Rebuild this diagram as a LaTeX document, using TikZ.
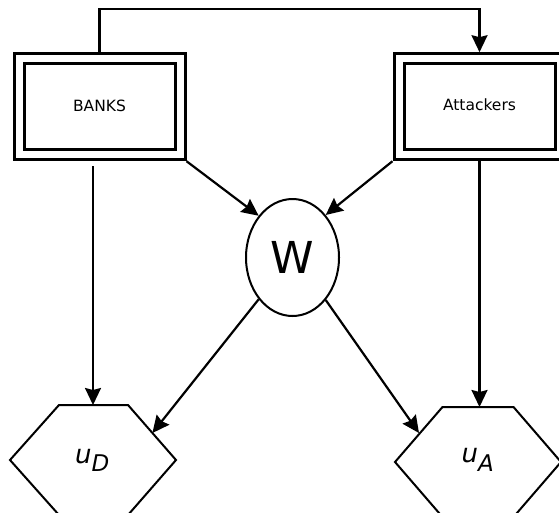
\documentclass[tikz,border=0pt]{standalone}
\usepackage{fontspec}
\setmainfont{DejaVu Sans}
\usetikzlibrary{arrows.meta,shapes.geometric}
\begin{document}
\begin{tikzpicture}[x=1pt,y=-1pt,
  agent/.style={draw, line width=3pt, double, double distance=7pt,
    minimum width=161pt, minimum height=96pt, inner sep=0pt, outer sep=6.5pt,
    font=\fontsize{15.5}{15.5}\selectfont},
  chance/.style={ellipse, draw, line width=2pt, minimum width=93pt, minimum height=117pt,
    inner sep=0pt, outer sep=1pt, font=\fontsize{44}{44}\selectfont},
  hexline/.style={draw, line width=2pt, line join=miter},
  ulabel/.style={anchor=base west, inner sep=0pt, font=\fontsize{26}{26}\selectfont\itshape},
  arr/.style={line width=2.2pt, -{Stealth[length=17pt,width=16pt,inset=2pt]}},
]
\useasboundingbox (0,0) rectangle (559,512);

\node[agent] (BANKS) at (99.5,106.7) {\raisebox{1.5pt}{BANKS}};
\node[agent] (Att) at (479.5,106.7) {\raisebox{4pt}{Attackers}};
\node[chance] (W) at (292.5,257.5) {\raisebox{-3pt}{W}};

% hexagons
\draw[hexline] (59,405) -- (128,405) -- (176,460) -- (128,515) -- (59,515) -- (10,460) -- cycle;
\draw[hexline] (442.5,407) -- (513.5,407) -- (561,462) -- (513.5,517) -- (442.5,517) -- (395,462) -- cycle;
\node[ulabel] (uD) at (75,463) {u\raisebox{-8pt}{\fontsize{23}{23}\selectfont D}};
\node[ulabel] (uA) at (461.5,462) {u\raisebox{-9pt}{\fontsize{23}{23}\selectfont A}};

\coordinate (uDtop) at (93,405);
\coordinate (uAtop) at (479.5,407);
\coordinate (uDedge) at (152.4,433);
\coordinate (uAedge) at (419,433);
\coordinate (topbend) at (300,9);

\draw[arr] (BANKS.north) |- (topbend) -| (Att.north);
\draw[arr, shorten <=5pt] ([xshift=-6.5pt]BANKS.south) -- (uDtop);
\draw[arr] (Att.south) -- (uAtop);
\draw[arr] (BANKS.south east) -- (W.129);
\draw[arr] (Att.south west) -- (W.52);
\draw[arr] (W.231) -- (uDedge);
\draw[arr] (W.308) -- (uAedge);
\end{tikzpicture}
\end{document}
